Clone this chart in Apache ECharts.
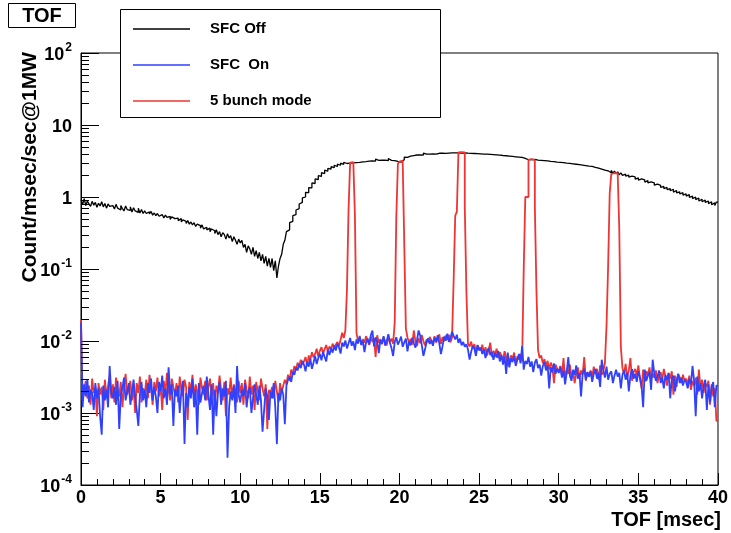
<!DOCTYPE html>
<html><head><meta charset="utf-8">
<script src="https://cdn.jsdelivr.net/npm/echarts@6/dist/echarts.min.js"></script>
<style>html,body{margin:0;padding:0;background:#fff}#c{width:731px;height:533px}</style>
</head><body><div id="c"></div>
<script>
// ---- data: histograms with 0.1 ms bins from 0 to 40 ms ----
const tofStart = 0;
const binWidth = 0.1;
const xTicks = [0, 5, 10, 15, 20, 25, 30, 35, 40];
const yDecadeExponents = [-4, -3, -2, -1, 0, 1, 2];
const seriesNames = ['SFC Off', 'SFC  On', '5 bunch mode'];

const sfcOff = [
 0.92,0.78,0.95,0.76,0.88,0.80,0.74,0.87,0.77,0.84,0.72,0.82,0.75,0.86,0.73,0.81,0.70,0.80,0.74,0.76,
 0.78,0.68,0.79,0.70,0.66,0.76,0.69,0.64,0.75,0.67,0.65,0.73,0.62,0.71,0.64,0.61,0.70,0.60,0.67,0.59,
 0.64,0.59,0.62,0.58,0.63,0.56,0.60,0.55,0.59,0.54,0.57,0.55,0.51,0.56,0.52,0.54,0.49,0.53,0.50,0.47,
 0.51,0.47,0.50,0.45,0.48,0.46,0.43,0.47,0.42,0.45,0.41,0.44,0.39,0.42,0.40,0.37,0.41,0.36,0.38,0.35,
 0.37,0.33,0.36,0.34,0.31,0.35,0.30,0.33,0.28,0.32,0.30,0.26,0.31,0.27,0.29,0.24,0.28,0.25,0.22,0.26,
 0.23,0.25,0.20,0.22,0.17,0.21,0.19,0.16,0.20,0.15,0.18,0.14,0.17,0.13,0.16,0.12,0.15,0.11,0.14,0.105,
 0.14,0.095,0.13,0.075,0.11,0.14,0.16,0.22,0.25,0.33,0.35,0.44,0.46,0.55,0.57,0.66,0.69,0.80,0.84,0.97,
 1.00,1.16,1.15,1.35,1.34,1.57,1.54,1.78,1.74,1.98,1.93,2.18,2.12,2.36,2.28,2.50,2.43,2.64,2.55,2.76,
 2.66,2.86,2.76,2.95,2.84,3.04,2.92,3.08,2.96,3.10,2.98,3.16,3.00,3.19,3.02,3.21,3.08,3.20,3.10,3.24,
 3.14,3.26,3.16,3.35,3.15,3.37,3.22,3.36,3.24,3.40,3.26,3.41,3.20,3.42,3.23,3.35,3.21,3.31,3.12,3.20,
 3.05,3.25,3.30,3.58,3.55,3.78,3.69,3.89,3.76,3.97,3.83,3.95,3.85,4.06,3.82,4.08,3.93,4.05,3.95,4.12,
 3.97,4.18,3.94,4.20,4.05,4.16,4.07,4.29,4.04,4.30,4.08,4.32,4.11,4.34,4.09,4.30,4.10,4.33,4.07,4.29,
 4.09,4.30,4.06,4.27,4.04,4.25,4.02,4.22,4.00,4.20,3.98,4.18,3.95,4.16,3.93,4.13,3.90,4.10,3.87,4.06,
 3.84,4.04,3.81,4.00,3.77,3.97,3.74,3.93,3.70,3.89,3.66,3.86,3.62,3.81,3.58,3.77,3.54,3.67,3.43,3.50,
 3.29,3.40,3.31,3.52,3.33,3.45,3.26,3.43,3.23,3.40,3.20,3.37,3.17,3.34,3.13,3.30,3.10,3.27,3.06,3.23,
 3.03,3.15,3.00,3.11,2.96,3.07,2.93,3.02,2.89,2.99,2.85,2.95,2.81,2.91,2.77,2.87,2.73,2.83,2.69,2.79,
 2.66,2.71,2.58,2.67,2.51,2.59,2.44,2.52,2.37,2.44,2.31,2.36,2.17,2.34,2.14,2.29,2.10,2.24,2.03,2.17,
 2.00,2.08,1.95,2.02,1.89,1.95,1.83,1.90,1.77,1.84,1.72,1.78,1.67,1.73,1.61,1.69,1.57,1.62,1.52,1.57,
 1.46,1.51,1.42,1.45,1.36,1.40,1.31,1.36,1.27,1.31,1.22,1.28,1.17,1.23,1.14,1.18,1.10,1.15,1.06,1.11,
 1.03,1.08,0.99,1.03,0.95,1.00,0.92,0.97,0.88,0.93,0.86,0.91,0.84,0.88,0.81,0.86,0.78,0.83,0.76,0.85
];

const sfcOn = [
 0.018,0.0012,0.0025,0.0017,0.0029,0.0014,0.0021,0.0019,0.0011,0.0026,0.0016,0.0022,0.0009,0.0005,0.0024,0.0015,0.0021,0.0012,0.0045,0.0019,
 0.0016,0.0023,0.0013,0.0028,0.0006,0.0018,0.0022,0.0031,0.0015,0.0020,0.0026,0.0013,0.0019,0.0029,0.0017,0.0011,0.00066,0.0018,0.0027,0.0015,
 0.0021,0.0012,0.0026,0.0019,0.0030,0.0015,0.0023,0.0017,0.0010,0.0027,0.0020,0.0033,0.0016,0.0022,0.0013,0.0043,0.0018,0.0025,0.00066,0.0021,
 0.0017,0.0024,0.0010,0.0020,0.0028,0.00037,0.0019,0.0012,0.0023,0.0016,0.0030,0.0012,0.0021,0.0005,0.0026,0.0014,0.0019,0.0024,0.0015,0.0032,
 0.0018,0.0011,0.0025,0.0005,0.0021,0.0009,0.0019,0.0027,0.0013,0.0022,0.0017,0.0028,0.00024,0.0012,0.0020,0.0015,0.0024,0.0010,0.0045,0.0018,
 0.0014,0.0021,0.0017,0.0026,0.0012,0.0019,0.0023,0.0010,0.0016,0.0025,0.0018,0.0013,0.0024,0.0015,0.00055,0.0011,0.0022,0.0017,0.0008,0.0020,
 0.0016,0.0026,0.0012,0.00037,0.0019,0.0015,0.0022,0.0018,0.0007,0.0024,0.0029,0.0032,0.0027,0.0037,0.0034,0.0043,0.0039,0.0048,0.0042,0.0053,
 0.0047,0.0038,0.0052,0.0044,0.0057,0.0041,0.0050,0.0062,0.0048,0.0058,0.0066,0.0054,0.0071,0.0060,0.0052,0.0075,0.0064,0.0080,0.0069,0.0086,
 0.0074,0.0091,0.0082,0.0067,0.0095,0.0084,0.0102,0.0079,0.0093,0.0110,0.0086,0.0099,0.0075,0.0105,0.0092,0.0118,0.0088,0.0101,0.0070,0.0096,
 0.0108,0.0090,0.0121,0.0140,0.0084,0.0112,0.0099,0.0068,0.0104,0.0092,0.0117,0.0086,0.0101,0.0124,0.0094,0.0079,0.0062,0.0097,0.0113,0.0089,
 0.0100,0.0115,0.0083,0.0096,0.0108,0.0072,0.0099,0.0087,0.0111,0.0093,0.0081,0.0104,0.0140,0.0118,0.0088,0.0062,0.0076,0.0097,0.0109,0.0091,
 0.0103,0.0086,0.0112,0.0098,0.0120,0.0093,0.0066,0.0084,0.0115,0.0101,0.0126,0.0097,0.0110,0.0135,0.0118,0.0105,0.0122,0.0094,0.0108,0.0087,
 0.0097,0.0083,0.0090,0.0076,0.0055,0.0071,0.0085,0.0079,0.0062,0.0088,0.0074,0.0081,0.0066,0.0077,0.0058,0.0072,0.0080,0.0064,0.0070,0.0055,
 0.0068,0.0059,0.0073,0.0052,0.0064,0.0047,0.0061,0.0035,0.0069,0.0043,0.0058,0.0051,0.0062,0.0045,0.0055,0.0066,0.0049,0.0085,0.0040,0.0053,
 0.0048,0.0060,0.0044,0.0052,0.0037,0.0050,0.0056,0.0042,0.0047,0.0033,0.0045,0.0051,0.0039,0.0046,0.0022,0.0043,0.0037,0.0049,0.0035,0.0041,
 0.0036,0.0044,0.0031,0.0039,0.0025,0.0037,0.0060,0.0033,0.0028,0.0040,0.0034,0.0046,0.0030,0.0036,0.0017,0.0035,0.0041,0.0029,0.0037,0.0032,
 0.0038,0.0027,0.0035,0.0041,0.0030,0.0036,0.0023,0.0055,0.0039,0.0031,0.0044,0.0029,0.0035,0.0038,0.0026,0.0033,0.0040,0.0032,0.0036,0.0022,
 0.0034,0.0039,0.0029,0.0036,0.0020,0.0033,0.0041,0.0030,0.0035,0.0027,0.0038,0.0031,0.0024,0.0012,0.0040,0.0028,0.0033,0.0037,0.0021,0.0055,
 0.0035,0.0028,0.0032,0.0039,0.0026,0.0031,0.0022,0.0034,0.0029,0.0036,0.0016,0.0030,0.0033,0.0020,0.0028,0.0035,0.0026,0.0031,0.0024,0.0029,
 0.0027,0.0022,0.0030,0.0025,0.0045,0.0028,0.0009,0.0032,0.0020,0.0026,0.0016,0.0024,0.0029,0.0011,0.0025,0.0014,0.0023,0.0027,0.0012,0.0024
];

const bunch5 = [
 0.020,0.0015,0.0021,0.0028,0.0016,0.0024,0.0013,0.0030,0.0019,0.0022,0.0009,0.0026,0.0018,0.0023,0.0011,0.0029,0.0017,0.0024,0.0033,0.0016,
 0.0025,0.0014,0.0031,0.0020,0.0017,0.0027,0.0012,0.0023,0.0035,0.0018,0.0021,0.0028,0.0015,0.0024,0.0010,0.0026,0.0019,0.0032,0.0014,0.0022,
 0.0018,0.0029,0.0016,0.0034,0.0022,0.0013,0.0027,0.0020,0.0031,0.0017,0.0024,0.0011,0.0028,0.0019,0.0036,0.0021,0.0015,0.0030,0.0023,0.0018,
 0.0026,0.0014,0.0032,0.0021,0.0017,0.0029,0.0023,0.0008,0.0027,0.0019,0.0034,0.0016,0.0025,0.0020,0.0013,0.0031,0.0022,0.0018,0.0028,0.0015,
 0.0023,0.0030,0.0017,0.0026,0.0012,0.0024,0.0019,0.0033,0.0021,0.0015,0.0027,0.0009,0.0022,0.0018,0.0031,0.0016,0.0025,0.0020,0.0014,0.0028,
 0.0019,0.0026,0.0013,0.0029,0.0021,0.0016,0.0032,0.0018,0.0024,0.0011,0.0027,0.0020,0.0015,0.0030,0.0022,0.0017,0.0025,0.0006,0.0021,0.0019,
 0.0023,0.0016,0.0028,0.0020,0.0014,0.0026,0.0019,0.0024,0.0029,0.0025,0.0034,0.0028,0.0040,0.0035,0.0045,0.0039,0.0050,0.0044,0.0055,0.0047,
 0.0052,0.0060,0.0046,0.0063,0.0055,0.0070,0.0059,0.0066,0.0078,0.0061,0.0073,0.0082,0.0067,0.0077,0.0088,0.0072,0.0084,0.0076,0.0092,0.0081,
 0.0089,0.0097,0.0085,0.0104,0.0130,0.0110,0.014,0.051,0.66,3.0,3.05,3.1,0.56,0.013,0.0098,0.0112,0.0090,0.0106,0.0095,0.0117,
 0.0101,0.0088,0.0115,0.0097,0.0109,0.0060,0.0120,0.0094,0.0106,0.0090,0.0113,0.0099,0.0087,0.0118,0.0096,0.0108,0.0092,0.018,0.53,2.9,
 3.1,3.2,3.15,0.22,0.015,0.0112,0.0094,0.0107,0.0089,0.0140,0.0098,0.0085,0.0110,0.0093,0.0121,0.0100,0.0087,0.0105,0.0096,0.0114,
 0.0102,0.0089,0.0117,0.0095,0.0108,0.0124,0.0091,0.0113,0.0099,0.0119,0.0104,0.0122,0.0096,0.0111,0.07,0.55,0.62,4.15,4.2,4.2,
 4.15,0.73,0.05,0.0092,0.0084,0.0098,0.0078,0.0091,0.0069,0.0087,0.0080,0.0074,0.0089,0.0068,0.0082,0.0063,0.0076,0.0095,0.0060,0.0073,
 0.0065,0.0078,0.0058,0.0070,0.0062,0.0054,0.0072,0.0060,0.0045,0.0051,0.0063,0.0057,0.0069,0.0048,0.0061,0.0055,0.0066,0.0052,0.097,1.0,
 1.0,3.3,3.35,3.3,3.25,0.73,0.05,0.0075,0.0058,0.0063,0.0049,0.0056,0.0045,0.0053,0.0040,0.0050,0.0044,0.0026,0.0047,0.0041,
 0.0038,0.0045,0.0033,0.0058,0.0029,0.0040,0.0035,0.0047,0.0031,0.0038,0.0026,0.0036,0.0043,0.0030,0.0039,0.0034,0.0060,0.0028,0.0037,0.0033,
 0.0039,0.0031,0.0044,0.0035,0.0041,0.0029,0.0046,0.0034,0.0038,0.0050,0.016,0.108,1.12,2.1,2.15,2.2,2.15,2.1,0.37,0.0083,
 0.0042,0.0035,0.0048,0.0031,0.0039,0.0058,0.0028,0.0037,0.0041,0.0033,0.0046,0.0030,0.0022,0.0040,0.0027,0.0038,0.0034,0.0043,0.0029,0.0035,
 0.0031,0.0039,0.0026,0.0034,0.0037,0.0029,0.0041,0.0032,0.0024,0.0036,0.0030,0.0038,0.0018,0.0033,0.0023,0.0035,0.0031,0.0026,0.0034,0.0028,
 0.0030,0.0025,0.0033,0.0021,0.0028,0.0024,0.0031,0.0018,0.0040,0.0022,0.0029,0.0019,0.0026,0.0023,0.0028,0.0013,0.0025,0.0017,0.0022,0.00078
];

// ---- build step-histogram points (bin lower edges + final right edge) ----
function toSteps(vals) {
  const d = vals.map((v, i) => [tofStart + i * binWidth, v]);
  d.push([tofStart + vals.length * binWidth, vals[vals.length - 1]]);
  return d;
}
// minor tick positions on the log axis (2..9 x 10^k)
const yMinorTicks = [];
for (let k = 0; k < yDecadeExponents.length - 1; k++) {
  for (let m = 2; m <= 9; m++) yMinorTicks.push([0, m * Math.pow(10, yDecadeExponents[k])]);
}

const FONT = "'Liberation Sans', Arial, Helvetica, sans-serif";
const chart = echarts.init(document.getElementById('c'), null, {renderer: 'canvas'});
chart.setOption({
  animation: false,
  backgroundColor: '#fff',
  grid: {left: 81, right: 12, top: 53, bottom: 48, show: true, borderColor: '#000', borderWidth: 1, backgroundColor: 'transparent'},
  xAxis: {
    type: 'value', min: xTicks[0], max: xTicks[xTicks.length - 1], interval: 5,
    axisLine: {show: true, onZero: false, lineStyle: {color: '#000', width: 1}},
    axisTick: {show: true, inside: true, length: 12, lineStyle: {color: '#000'}},
    minorTick: {show: true, splitNumber: 5, length: 6, lineStyle: {color: '#000'}},
    splitLine: {show: false},
    axisLabel: {color: '#000', fontFamily: FONT, fontWeight: 'bold', fontSize: 18, margin: 4, showMinLabel: true, showMaxLabel: true}
  },
  yAxis: {
    type: 'log', logBase: 10, min: 1e-4, max: 100, interval: 1,
    axisLine: {show: true, lineStyle: {color: '#000', width: 1}},
    axisTick: {show: true, inside: true, length: 18, lineStyle: {color: '#000'}},
    splitLine: {show: false},
    axisLabel: {
      margin: 9, showMinLabel: true, showMaxLabel: true,
      formatter: function (v) {
        const e = Math.round(Math.log10(v));
        if (e === 0) return '{b|1}';
        if (e === 1) return '{b|10}';
        return '{b|10}{s|' + e + '}';
      },
      rich: {
        b: {fontFamily: FONT, fontWeight: 'bold', fontSize: 18, color: '#000', lineHeight: 22, verticalAlign: 'bottom'},
        s: {fontFamily: FONT, fontWeight: 'bold', fontSize: 12, color: '#000', lineHeight: 22, verticalAlign: 'top', padding: [0, 0, 0, 1]}
      }
    }
  },
  legend: {
    data: seriesNames, orient: 'vertical', left: 133, top: 21.5, padding: 0,
    icon: 'rect', itemWidth: 57, itemHeight: 1.5, itemGap: 21, selectedMode: false, z: 10,
    textStyle: {fontFamily: FONT, fontWeight: 'bold', fontSize: 15, lineHeight: 15, color: '#000', padding: [0, 0, 0, 15]}
  },
  graphic: [
    {type: 'rect', z: 5, shape: {x: 120.5, y: 9.5, width: 320, height: 108}, style: {fill: '#fff', stroke: '#000', lineWidth: 1}},
    {type: 'rect', z: 5, shape: {x: 8.5, y: 3.5, width: 67, height: 24}, style: {fill: '#fff', stroke: '#000', lineWidth: 1}},
    {type: 'text', z: 6, x: 42, y: 16, style: {text: 'TOF', fontFamily: FONT, fontWeight: 'bold', fontSize: 20, fill: '#000', align: 'center', verticalAlign: 'middle'}},
    {type: 'text', z: 6, x: 30, y: 52, rotation: Math.PI / 2, style: {text: 'Count/msec/sec@1MW', fontFamily: FONT, fontWeight: 'bold', fontSize: 21, fill: '#000', align: 'right', verticalAlign: 'middle'}},
    {type: 'text', z: 6, x: 721, y: 520, style: {text: 'TOF [msec]', fontFamily: FONT, fontWeight: 'bold', fontSize: 20, fill: '#000', align: 'right', verticalAlign: 'middle'}}
  ],
  series: [
    {name: seriesNames[0], type: 'line', step: 'end', symbol: 'none', data: toSteps(sfcOff), color: '#000', lineStyle: {color: '#000', width: 1.3}, z: 2},
    {name: seriesNames[2], type: 'line', step: 'end', symbol: 'none', data: toSteps(bunch5), color: '#f03434', lineStyle: {color: '#f03434', width: 1.8}, z: 3},
    {name: seriesNames[1], type: 'line', step: 'end', symbol: 'none', data: toSteps(sfcOn), color: '#3040ff', lineStyle: {color: '#3040ff', width: 1.8}, z: 4},
    {
      name: 'yMinorTicks', type: 'custom', data: yMinorTicks, silent: true, z: 6,
      renderItem: function (params, api) {
        const p = api.coord([api.value(0), api.value(1)]);
        const y = Math.round(p[1]) + 0.5;
        return {type: 'line', shape: {x1: p[0], y1: y, x2: p[0] + 8, y2: y}, style: {stroke: '#000', lineWidth: 1}};
      }
    }
  ]
});
</script>
</body></html>
